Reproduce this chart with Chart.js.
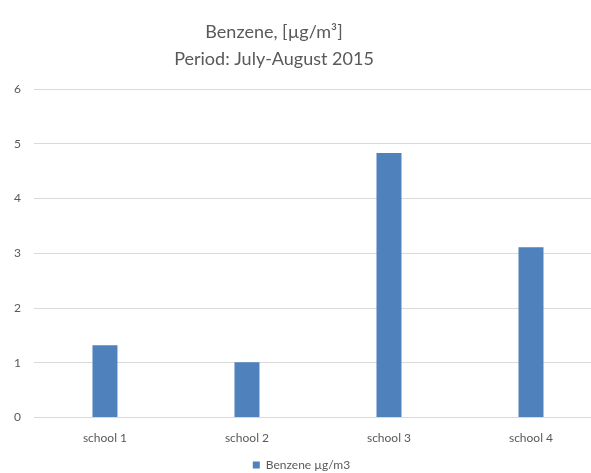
<!DOCTYPE html>
<html>
<head>
<meta charset="utf-8">
<script src="https://cdn.jsdelivr.net/npm/chart.js@4"></script>
<style>
  html, body { margin: 0; padding: 0; background: #fff; overflow: hidden; }
  .chart-box { position: relative; width: 602px; height: 483px; }
</style>
</head>
<body>
<div class="chart-box"><canvas id="benzeneChart"></canvas></div>
<script>
const categories = ['school 1', 'school 2', 'school 3', 'school 4'];
const benzeneValues = [1.32, 1.01, 4.83, 3.11];
const yTicks = [0, 1, 2, 3, 4, 5, 6];
const seriesLabel = 'Benzene µg/m3';
const titleLines = ['Benzene, [µg/m³]', 'Period: July-August 2015'];

const FONT = 'Lato, "Open Sans", sans-serif';
const TEXT_GREY = '#595959';

// title drawn off-centre, like the cropped original
const titlePlugin = {
    id: 'offsetTitle',
    afterDraw(chart) {
        const ctx = chart.ctx;
        ctx.save();
        ctx.fillStyle = TEXT_GREY;
        ctx.font = '18px ' + FONT;
        ctx.textAlign = 'center';
        ctx.textBaseline = 'middle';
        titleLines.forEach((line, i) => ctx.fillText(line, 274, 32 + i * 27));
        ctx.restore();
    }
};

document.addEventListener('DOMContentLoaded', () => {
    const ctx = document.getElementById('benzeneChart').getContext('2d');
    new Chart(ctx, {
        type: 'bar',
        data: {
            labels: categories,
            datasets: [{
                label: seriesLabel,
                data: benzeneValues,
                backgroundColor: '#4f81bd',
                borderWidth: 0,
                barPercentage: 0.176,
                categoryPercentage: 1
            }]
        },
        options: {
            responsive: true,
            maintainAspectRatio: false,
            animation: false,
            layout: { padding: { top: 89, left: 1, right: 0, bottom: 2 } },
            plugins: {
                title: { display: false },
                tooltip: { enabled: false },
                legend: {
                    position: 'bottom',
                    labels: {
                        boxWidth: 7,
                        boxHeight: 7,
                        color: TEXT_GREY,
                        font: { family: FONT, size: 12 },
                        padding: 9
                    }
                }
            },
            scales: {
                x: {
                    grid: { display: false },
                    border: { display: false },
                    ticks: { color: TEXT_GREY, font: { family: FONT, size: 12 }, padding: 5 }
                },
                y: {
                    min: 0,
                    max: 6,
                    afterBuildTicks: axis => { axis.ticks = yTicks.map(v => ({ value: v })); },
                    grid: { color: '#d9d9d9', lineWidth: 1, drawTicks: false },
                    border: { display: false },
                    ticks: { color: TEXT_GREY, font: { family: FONT, size: 12 }, padding: 13 }
                }
            }
        },
        plugins: [titlePlugin]
    });
});
</script>
</body>
</html>
